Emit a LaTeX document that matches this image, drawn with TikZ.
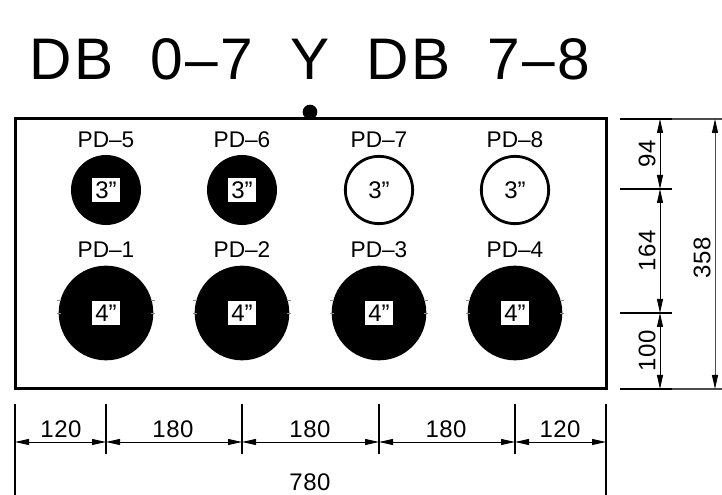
\documentclass[tikz,border=0pt]{standalone}
\usepackage{fontspec}
\setmainfont{Liberation Sans}
\newfontfamily\titlefont[WordSpace=2.0,LetterSpace=4]{Liberation Sans}
\usetikzlibrary{arrows.meta}
\tikzset{>={Stealth[inset=0pt,length=10.5pt,width=4.5pt,black]}}
\tikzset{
  plate/.style={line width=2.25pt},
  extline/.style={line width=0.8pt},
  dimline/.style={line width=0.7pt,<->},
  dimtext/.style={font=\fontsize{18}{20}\selectfont\addfontfeature{LetterSpace=2},inner sep=0pt},
  pdtext/.style={font=\fontsize{17}{19}\selectfont,inner sep=0pt},
  boltfull/.style={circle,fill=black,inner sep=0pt},
  boltopen/.style={circle,draw=black,line width=2.1pt,inner sep=0pt},
  sizetag/.style={fill=white,font=\fontsize{18}{20}\selectfont,inner sep=0pt,minimum width=20.5pt,minimum height=18.5pt},
  hair/.style={line width=0.3pt,black!45},
}
\begin{document}
\begin{tikzpicture}[x=0.75pt,y=0.75pt,yscale=-1]
\useasboundingbox (0,0) rectangle (722,495);

%title
\node [font=\titlefont\fontsize{44}{48}\selectfont,inner sep=0pt] (title) at (310,59) {DB 0–7 Y DB 7–8};
\node [circle,fill=black,inner sep=0pt,minimum size=11pt] (dot) at (310,112) {};

%plate
\draw [plate] (15,119) rectangle (606,389);

%3 inch row
\node [boltfull,minimum size=52.5pt] (pd5) at (106,190) {};
\node [boltfull,minimum size=52.5pt] (pd6) at (242,190) {};
\node [boltopen,minimum size=50.5pt] (pd7) at (379,190) {};
\node [boltopen,minimum size=50.5pt] (pd8) at (515,190) {};
\node [sizetag] at (pd5) {3”};
\node [sizetag] at (pd6) {3”};
\node [pdtext,font=\fontsize{18}{20}\selectfont] at (pd7) {3”};
\node [pdtext,font=\fontsize{18}{20}\selectfont] at (pd8) {3”};
\node [pdtext] at (106,140) {PD–5};
\node [pdtext] at (242,140) {PD–6};
\node [pdtext] at (379,140) {PD–7};
\node [pdtext] at (515,140) {PD–8};

%4 inch row
\foreach \i/\x in {1/106,2/242,3/379,4/515}{
\node [boltfull,minimum size=71pt] (pd\i) at (\x,313) {};
\node [sizetag] at (pd\i) {4”};
\node [pdtext] at (\x,250) {PD–\i};
\draw [hair] (\x-49,300) -- (\x-45,300) (\x-49,313) -- (\x-45,313);
\draw [hair] (\x+45,300) -- (\x+49,300) (\x+45,313) -- (\x+49,313);
}

%bottom dimensions
\foreach \n/\x in {a/15,b/106,c/242,d/379,e/515,f/606}{
\coordinate (bot\n) at (\x,442);
\draw [extline] (\x,404) -- (\x,454);
}
\draw [extline] (15,454) -- (15,495);
\draw [extline] (606,454) -- (606,495);
\draw [dimline] (bota) -- (botb);
\draw [dimline] (botb) -- (botc);
\draw [dimline] (botc) -- (botd);
\draw [dimline] (botd) -- (bote);
\draw [dimline] (bote) -- (botf);
\node [dimtext] at (61,429) {120};
\node [dimtext] at (173,429) {180};
\node [dimtext] at (310,429) {180};
\node [dimtext] at (446,429) {180};
\node [dimtext] at (560,429) {120};
\node [dimtext] at (310,482) {780};

%right dimensions
\foreach \n/\y in {a/119,b/189,c/313,d/389}{
\coordinate (rgt\n) at (660,\y);
\draw [extline] (620,\y) -- (672,\y);
}
\coordinate (alla) at (715,119);
\coordinate (allb) at (715,389);
\draw [extline,black!70] (672,119) -- (722,119);
\draw [extline,black!70] (672,389) -- (722,389);
\draw [dimline] (rgta) -- (rgtb);
\draw [dimline] (rgtb) -- (rgtc);
\draw [dimline] (rgtc) -- (rgtd);
\draw [dimline,black!70] (alla) -- (allb);
\node [dimtext,rotate=90] at (647,154) {94};
\node [dimtext,rotate=90] at (647,251) {164};
\node [dimtext,rotate=90] at (647,351) {100};
\node [dimtext,rotate=90] at (702,258) {358};
\end{tikzpicture}
\end{document}
